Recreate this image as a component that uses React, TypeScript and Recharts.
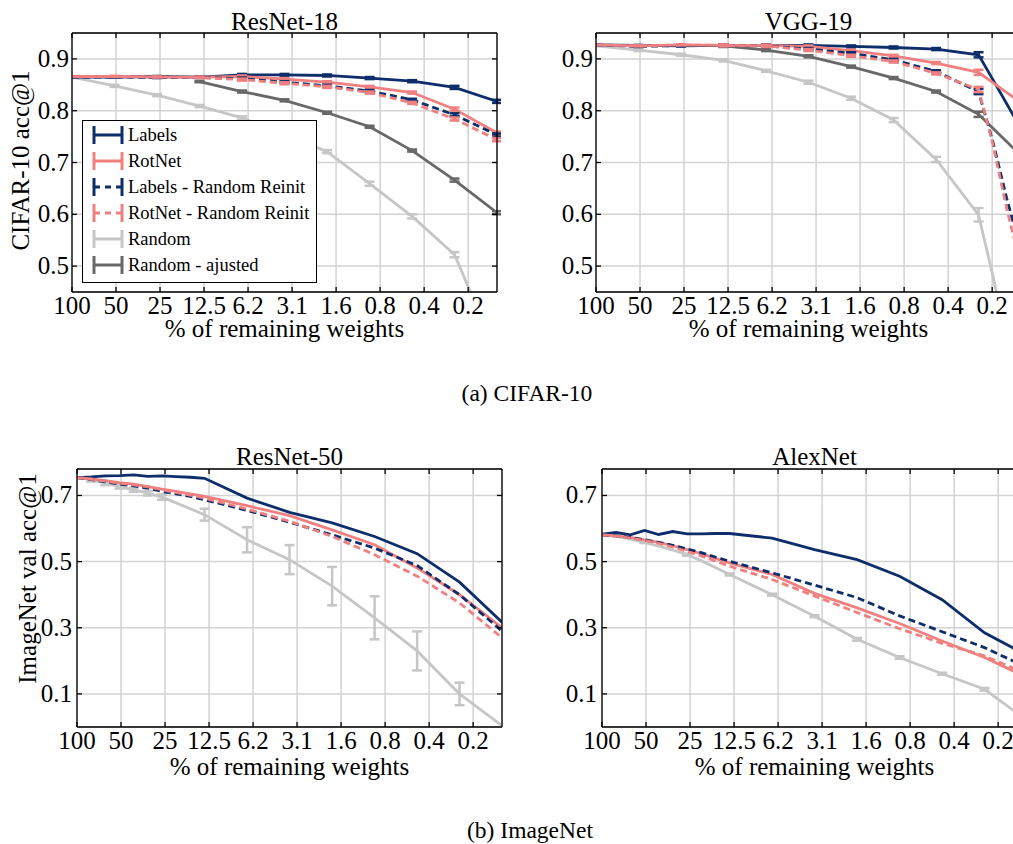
import React from 'react'
import { LineChart, Line, XAxis, YAxis, CartesianGrid, ErrorBar } from 'recharts'

/* ---------- style ---------- */

const FONT = '"Liberation Serif", "DejaVu Serif", serif'
const NAVY = '#0e2d6b'
const CORAL = '#f08080'
const LIGHT = '#c6c6c6'
const DARK = '#686868'
const GRID = '#d2d2d2'
const LW = 2.8
const TICK_FS = 25

/* ---------- data ---------- */

// % of remaining weights at each plotted pruning round
const cifarX = [100, 51.2, 26.21, 13.42, 6.87, 3.52, 1.8, 0.922, 0.472, 0.242, 0.124]
const vggX = [100, 51.2, 26.21, 13.42, 6.87, 3.52, 1.8, 0.922, 0.472, 0.242, 0.193, 0.155, 0.124]
const imagenetX = [100, 80, 64, 51.2, 40.96, 32.77, 26.21, 20.97, 16.78, 13.42, 6.87, 3.52, 1.8, 0.922, 0.472, 0.242, 0.124]

const xTicks = [100, 50, 25, 12.5, 6.25, 3.125, 1.5625, 0.78125, 0.390625, 0.1953125]
const xTickLabels = ['100', '50', '25', '12.5', '6.2', '3.1', '1.6', '0.8', '0.4', '0.2']
const xDomain = [0.124, 100]

const cifarTicks = [0.5, 0.6, 0.7, 0.8, 0.9]
const cifarDomain = [0.45, 0.95]
const imagenetTicks = [0.1, 0.3, 0.5, 0.7]
const imagenetDomain = [0, 0.78]

// ResNet-18 (CIFAR-10)
const r18Labels = [0.865, 0.865, 0.866, 0.865, 0.869, 0.869, 0.868, 0.863, 0.857, 0.845, 0.818]
const r18RotNet = [0.866, 0.866, 0.865, 0.865, 0.866, 0.861, 0.855, 0.846, 0.835, 0.803, 0.757]
const r18LabelsReinit = [0.865, 0.865, 0.864, 0.864, 0.862, 0.855, 0.848, 0.838, 0.821, 0.792, 0.753]
const r18RotNetReinit = [0.866, 0.866, 0.865, 0.864, 0.86, 0.853, 0.846, 0.835, 0.815, 0.784, 0.744]
const r18Random = [0.865, 0.848, 0.83, 0.809, 0.786, 0.755, 0.721, 0.659, 0.596, 0.522, 0.33]
const r18RandomErr = [null, 0.002, 0.002, 0.002, 0.003, 0.003, 0.003, 0.004, 0.004, 0.005, 0.006]
const r18RandomAdj = [null, null, null, 0.856, 0.837, 0.82, 0.796, 0.769, 0.723, 0.666, 0.603]
const r18Err = [null, 0.001, 0.001, 0.001, 0.002, 0.002, 0.002, 0.002, 0.002, 0.003, 0.003]

// VGG-19 (CIFAR-10)
const vggLabels = [0.927, 0.926, 0.925, 0.926, 0.926, 0.926, 0.924, 0.922, 0.919, 0.908, 0.86, 0.813, 0.765]
const vggRotNet = [0.927, 0.925, 0.927, 0.926, 0.926, 0.924, 0.916, 0.906, 0.892, 0.874, 0.854, 0.835, 0.815]
const vggLabelsReinit = [0.927, 0.924, 0.926, 0.926, 0.925, 0.919, 0.911, 0.898, 0.876, 0.837, 0.74, 0.63, 0.53]
const vggRotNetReinit = [0.927, 0.925, 0.927, 0.926, 0.925, 0.917, 0.906, 0.895, 0.872, 0.841, 0.735, 0.61, 0.5]
const vggRandom = [0.925, 0.917, 0.908, 0.897, 0.877, 0.855, 0.824, 0.782, 0.706, 0.599, 0.481, 0.36, 0.245]
const vggRandomErr = [null, 0.002, 0.002, 0.002, 0.002, 0.003, 0.003, 0.004, 0.005, 0.013, null, null, null]
const vggRandomAdj = [null, null, null, 0.925, 0.917, 0.905, 0.885, 0.863, 0.837, 0.793, 0.766, 0.74, 0.713]
const vggErr = [null, 0.001, 0.001, 0.002, 0.002, 0.002, 0.002, 0.002, 0.002, 0.005, null, null, null]

// ResNet-50 (ImageNet)
const r50Labels = [0.754, 0.756, 0.759, 0.76, 0.762, 0.758, 0.759, 0.757, 0.755, 0.752, 0.692, 0.649, 0.617, 0.576, 0.524, 0.438, 0.317]
const r50RotNet = [0.754, 0.75, 0.745, 0.739, 0.734, 0.727, 0.719, 0.712, 0.705, 0.697, 0.669, 0.639, 0.596, 0.551, 0.481, 0.4, 0.3]
const r50LabelsReinit = [0.754, 0.748, 0.741, 0.734, 0.729, 0.722, 0.712, 0.705, 0.697, 0.687, 0.655, 0.619, 0.581, 0.541, 0.488, 0.4, 0.29]
const r50RotNetReinit = [0.754, 0.749, 0.743, 0.737, 0.732, 0.726, 0.717, 0.709, 0.701, 0.692, 0.659, 0.622, 0.576, 0.521, 0.456, 0.375, 0.27]
const r50Random = [0.754, 0.747, 0.737, 0.727, 0.717, 0.707, 0.695, null, null, 0.642, 0.566, 0.506, 0.426, 0.33, 0.23, 0.1, 0.004]
const r50RandomErr = [null, 0.005, 0.006, 0.006, 0.006, 0.007, 0.008, null, null, 0.018, 0.038, 0.044, 0.058, 0.065, 0.059, 0.034, null]

// AlexNet (ImageNet)
const alexLabels = [0.583, 0.588, 0.581, 0.594, 0.582, 0.591, 0.584, 0.584, 0.585, 0.585, 0.571, 0.536, 0.506, 0.456, 0.385, 0.285, 0.217]
const alexRotNet = [0.581, 0.578, 0.573, 0.566, 0.558, 0.548, 0.536, 0.524, 0.51, 0.496, 0.461, 0.404, 0.36, 0.313, 0.26, 0.21, 0.15]
const alexLabelsReinit = [0.581, 0.578, 0.573, 0.566, 0.558, 0.549, 0.538, 0.527, 0.514, 0.501, 0.466, 0.429, 0.391, 0.336, 0.288, 0.24, 0.18]
const alexRotNetReinit = [0.581, 0.577, 0.571, 0.564, 0.555, 0.544, 0.531, 0.517, 0.502, 0.486, 0.446, 0.396, 0.346, 0.297, 0.253, 0.215, 0.16]
const alexRandom = [0.581, 0.576, 0.568, 0.558, 0.547, 0.535, 0.521, 0.503, 0.482, 0.461, 0.4, 0.335, 0.265, 0.21, 0.161, 0.114, 0.02]
const alexRandomErr = [null, null, null, 0.002, null, null, 0.003, null, null, 0.003, 0.003, 0.003, 0.004, 0.004, 0.003, 0.004, null]

/* ---------- series ---------- */

type Num = number | null
interface SeriesSet {
  labels: Num[]; rotnet: Num[]; labelsReinit: Num[]; rotnetReinit: Num[]
  random: Num[]; randomErr: Num[]; randomAdj?: Num[]; err?: Num[]
}

const SERIES = [
  { key: 'labels', name: 'Labels', color: NAVY, dash: undefined as string | undefined },
  { key: 'rotnet', name: 'RotNet', color: CORAL, dash: undefined },
  { key: 'labelsReinit', name: 'Labels - Random Reinit', color: NAVY, dash: '7 4' },
  { key: 'rotnetReinit', name: 'RotNet - Random Reinit', color: CORAL, dash: '7 4' },
  { key: 'random', name: 'Random', color: LIGHT, dash: undefined },
  { key: 'randomAdj', name: 'Random - ajusted', color: DARK, dash: undefined },
]
// painting order: grays underneath
const DRAW_ORDER = ['random', 'randomAdj', 'labels', 'rotnet', 'labelsReinit', 'rotnetReinit']

function buildRows(xs: number[], s: SeriesSet) {
  return xs.map((w, i) => ({
    w,
    labels: s.labels[i],
    rotnet: s.rotnet[i],
    labelsReinit: s.labelsReinit[i],
    rotnetReinit: s.rotnetReinit[i],
    random: s.random[i],
    randomErr: s.randomErr[i],
    randomAdj: s.randomAdj ? s.randomAdj[i] : null,
    err: s.err ? s.err[i] : null,
  }))
}

/* ---------- axes ---------- */

const YW = 60 // left axis width
const BH = 30 // bottom axis height
const EDGE = 4 // top / right axes
const PLOT_W = 425
const TICK = 5
const AXIS_LINE = { stroke: '#000', strokeWidth: 1.3 }
const TXT_STYLE = { fontFamily: FONT }

function BottomTick({ x, y, payload }: any) {
  const label = xTickLabels[xTicks.indexOf(payload.value)]
  return (
    <g>
      <line x1={x} x2={x} y1={y} y2={y - TICK} stroke="#000" strokeWidth={1.3} />
      <text x={x} y={y + 22} textAnchor="middle" fontSize={TICK_FS} style={TXT_STYLE} fill="#000">{label}</text>
    </g>
  )
}

function TopTick({ x, y }: any) {
  return <line x1={x} x2={x} y1={y} y2={y + TICK} stroke="#000" strokeWidth={1.3} />
}

function RightTick({ x, y }: any) {
  return <line x1={x} x2={x - TICK} y1={y} y2={y} stroke="#000" strokeWidth={1.3} />
}

const leftTick = (gap: number) => ({ x, y, payload }: any) => (
  <g>
    <line x1={x} x2={x + TICK} y1={y} y2={y} stroke="#000" strokeWidth={1.3} />
    <text x={x - gap} y={y + 8} textAnchor="end" fontSize={TICK_FS} style={TXT_STYLE} fill="#000">
      {Number(payload.value).toFixed(1)}
    </text>
  </g>
)

/* ---------- panel ---------- */

interface PanelProps {
  left: number; top: number; height: number
  rows: ReturnType<typeof buildRows>
  yDomain: number[]; yTicks: number[]; gap: number
}

function Panel({ left, top, height, rows, yDomain, yTicks, gap }: PanelProps) {
  return (
    <div style={{ position: 'absolute', left: left - YW, top: top - EDGE }}>
      <LineChart width={YW + PLOT_W + EDGE} height={EDGE + height + BH} data={rows}
        margin={{ top: 0, right: 0, bottom: 0, left: 0 }}>
        <CartesianGrid stroke={GRID} strokeWidth={1.5} />
        <XAxis dataKey="w" type="number" scale="log" domain={xDomain} reversed allowDataOverflow
          ticks={xTicks} interval={0} height={BH} tickSize={0} tickMargin={0} tickLine={false}
          tick={BottomTick} axisLine={AXIS_LINE} />
        <XAxis xAxisId="top" orientation="top" dataKey="w" type="number" scale="log" domain={xDomain}
          reversed allowDataOverflow ticks={xTicks} interval={0} height={EDGE} tickSize={0}
          tickMargin={0} tickLine={false} tick={TopTick} axisLine={AXIS_LINE} />
        <YAxis type="number" domain={yDomain} allowDataOverflow ticks={yTicks} interval={0} width={YW}
          tickSize={0} tickMargin={0} tickLine={false} tick={leftTick(gap)} axisLine={AXIS_LINE} />
        <YAxis yAxisId="right" orientation="right" type="number" domain={yDomain} allowDataOverflow
          ticks={yTicks} interval={0} width={EDGE} tickSize={0} tickMargin={0} tickLine={false}
          tick={RightTick} axisLine={AXIS_LINE} />
        {DRAW_ORDER.map(k => {
          const s = SERIES.find(d => d.key === k)!
          const errKey = k === 'random' ? 'randomErr' : 'err'
          return (
            <Line key={k} type="linear" dataKey={k} name={s.name} stroke={s.color} strokeWidth={LW}
              strokeDasharray={s.dash} dot={false} activeDot={false} connectNulls
              isAnimationActive={false}>
              <ErrorBar dataKey={errKey} direction="y" width={5} stroke={s.color} strokeWidth={2.5}
                isAnimationActive={false} />
            </Line>
          )
        })}
      </LineChart>
    </div>
  )
}

/* ---------- text helpers ---------- */

function Txt({ cx, baseline, size, children }: { cx: number; baseline: number; size: number; children: React.ReactNode }) {
  return (
    <div style={{
      position: 'absolute', left: cx - 300, width: 600, top: baseline - 0.8375 * size,
      fontSize: size, lineHeight: `${size}px`, textAlign: 'center', whiteSpace: 'nowrap',
    }}>{children}</div>
  )
}

function VTxt({ cx, cy, size, children }: { cx: number; cy: number; size: number; children: React.ReactNode }) {
  return (
    <div style={{
      position: 'absolute', left: cx - 200, top: cy - size / 2, width: 400, height: size,
      fontSize: size, lineHeight: `${size}px`, textAlign: 'center', whiteSpace: 'nowrap',
      transform: 'rotate(-90deg)',
    }}>{children}</div>
  )
}

function LegendIcon({ color, dash }: { color: string; dash?: string }) {
  return (
    <svg width={34} height={22} style={{ display: 'block' }}>
      <line x1={3} x2={31} y1={11} y2={11} stroke={color} strokeWidth={3} strokeDasharray={dash ? '6 5' : undefined} />
      <line x1={3} x2={3} y1={2} y2={20} stroke={color} strokeWidth={3} />
      <line x1={31} x2={31} y1={2} y2={20} stroke={color} strokeWidth={3} />
    </svg>
  )
}

function LegendBox() {
  return (
    <div style={{
      position: 'absolute', left: 82, top: 120, width: 235, height: 163, boxSizing: 'border-box',
      border: '1.5px solid #000', background: '#fff', paddingTop: 1,
    }}>
      {SERIES.map(s => (
        <div key={s.key} style={{ display: 'flex', alignItems: 'center', height: 26 }}>
          <div style={{ marginLeft: 8, width: 34 }}><LegendIcon color={s.color} dash={s.dash} /></div>
          <span style={{ marginLeft: 3, fontSize: 18.5, lineHeight: '26px', whiteSpace: 'nowrap' }}>{s.name}</span>
        </div>
      ))}
    </div>
  )
}

/* ---------- page ---------- */

const r18Rows = buildRows(cifarX, {
  labels: r18Labels, rotnet: r18RotNet, labelsReinit: r18LabelsReinit, rotnetReinit: r18RotNetReinit,
  random: r18Random, randomErr: r18RandomErr, randomAdj: r18RandomAdj, err: r18Err,
})
const vggRows = buildRows(vggX, {
  labels: vggLabels, rotnet: vggRotNet, labelsReinit: vggLabelsReinit, rotnetReinit: vggRotNetReinit,
  random: vggRandom, randomErr: vggRandomErr, randomAdj: vggRandomAdj, err: vggErr,
})
const r50Rows = buildRows(imagenetX, {
  labels: r50Labels, rotnet: r50RotNet, labelsReinit: r50LabelsReinit, rotnetReinit: r50RotNetReinit,
  random: r50Random, randomErr: r50RandomErr,
})
const alexRows = buildRows(imagenetX, {
  labels: alexLabels, rotnet: alexRotNet, labelsReinit: alexLabelsReinit, rotnetReinit: alexRotNetReinit,
  random: alexRandom, randomErr: alexRandomErr,
})

export default function App() {
  return (
    <div style={{
      position: 'absolute', left: 0, top: 0, width: 1013, height: 844, overflow: 'hidden',
      background: '#fff', fontFamily: FONT, color: '#000',
    }}>
      <Panel left={72} top={33} height={259} rows={r18Rows} yDomain={cifarDomain} yTicks={cifarTicks} gap={3} />
      <Panel left={596} top={33} height={259} rows={vggRows} yDomain={cifarDomain} yTicks={cifarTicks} gap={3} />
      <Panel left={77} top={469} height={258} rows={r50Rows} yDomain={imagenetDomain} yTicks={imagenetTicks} gap={5} />
      <Panel left={602} top={469} height={258} rows={alexRows} yDomain={imagenetDomain} yTicks={imagenetTicks} gap={5} />

      <LegendBox />

      <Txt cx={284.5} baseline={30} size={25}>ResNet-18</Txt>
      <Txt cx={808.5} baseline={30} size={25}>VGG-19</Txt>
      <Txt cx={284.5} baseline={337} size={25}>% of remaining weights</Txt>
      <Txt cx={808.5} baseline={337} size={25}>% of remaining weights</Txt>
      <VTxt cx={20} cy={160} size={25}>CIFAR-10 acc@1</VTxt>
      <Txt cx={527} baseline={402} size={23.5}>(a) CIFAR-10</Txt>

      <Txt cx={289.5} baseline={465} size={25}>ResNet-50</Txt>
      <Txt cx={814.5} baseline={465} size={25}>AlexNet</Txt>
      <Txt cx={289.5} baseline={775} size={25}>% of remaining weights</Txt>
      <Txt cx={814.5} baseline={775} size={25}>% of remaining weights</Txt>
      <VTxt cx={27} cy={578} size={25}>ImageNet val acc@1</VTxt>
      <Txt cx={530} baseline={839} size={23.5}>(b) ImageNet</Txt>
    </div>
  )
}
